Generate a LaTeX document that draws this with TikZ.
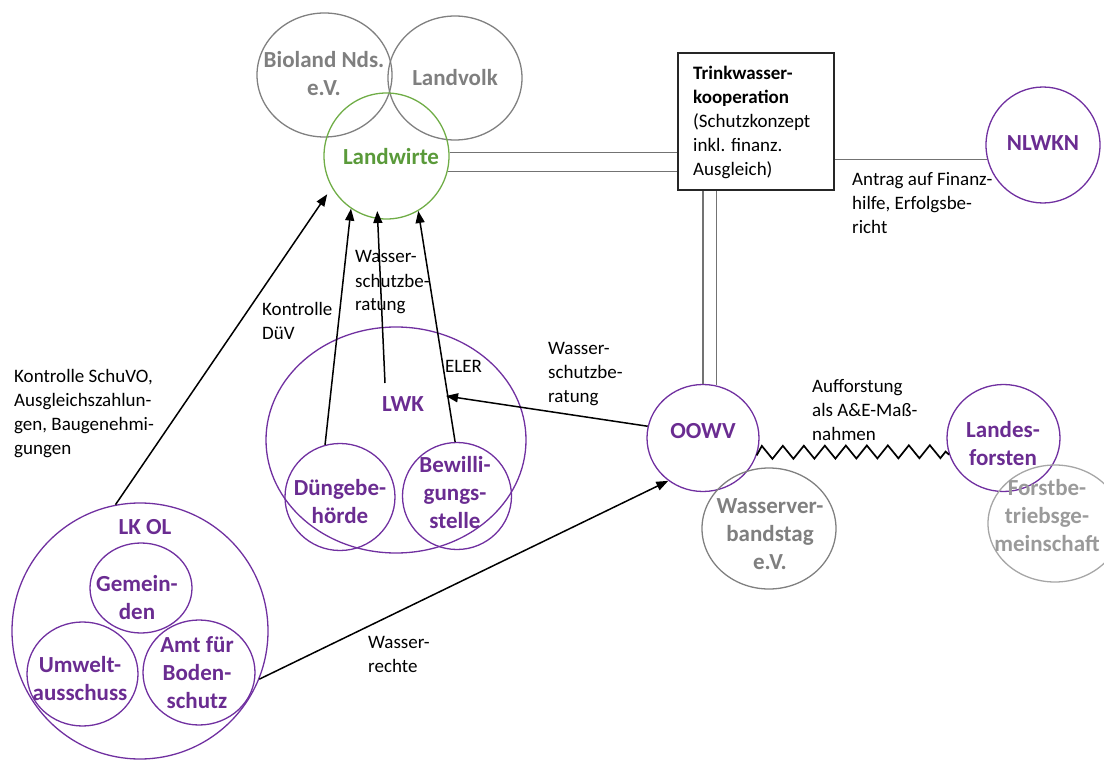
\documentclass[tikz,border=0pt]{standalone}
\usepackage{fontspec}
\setmainfont{Carlito}
\usetikzlibrary{shapes.geometric,arrows.meta,decorations.pathmorphing}
\definecolor{purp}{HTML}{7030A0}
\definecolor{purptxt}{HTML}{6A2C91}
\definecolor{grn}{HTML}{70AD47}
\definecolor{grntxt}{HTML}{5A9A3A}
\definecolor{gry}{HTML}{808080}
\definecolor{grytxt}{HTML}{7F7F7F}
\definecolor{lgry}{HTML}{A6A6A6}
\definecolor{lgrytxt}{HTML}{9A9A9A}
\begin{document}
\begin{tikzpicture}[x=1pt,y=-1pt,
 circ/.style={ellipse, draw, line width=1.3pt, inner sep=0pt},
 pc/.style={circ, draw=purp},
 gc/.style={circ, draw=gry},
 lab/.style={font=\fontsize{23}{28}\selectfont\bfseries, align=center, inner sep=0pt},
 pl/.style={lab, text=purptxt},
 gl/.style={lab, text=grytxt},
 txt/.style={font=\fontsize{19}{24}\selectfont, align=left, inner sep=0pt, anchor=base west},
 arr/.style={-{Triangle[length=12pt,width=9pt]}, line width=1.5pt},
 rel/.style={line width=1.1pt, draw=black!55}
]
\useasboundingbox (0,0) rectangle (1104,762);

% top group
\node[gc, minimum width=135, minimum height=124] (bio) at (324.5,75) {};
\node[gc, minimum width=134, minimum height=124] (lv) at (455,78) {};
\node[circ, draw=grn, minimum width=125, minimum height=126] (lw) at (386.5,156) {};
\node[gl] (biot) at (324,74) {Bioland Nds.\\e.V.};
\node[gl] (lvt) at (455,78) {Landvolk};
\node[lab, text=grntxt] (lwt) at (391,157) {Landwirte};

% Trinkwasserkooperation
\node[draw=black!85, line width=1.3pt, minimum width=156, minimum height=137, inner sep=0pt] (tk) at (756,121.5) {};
\node[txt] (tkt) at (693,176) {\textbf{Trinkwasser-}\\\textbf{kooperation}\\(Schutzkonzept\\inkl. finanz.\\Ausgleich)};

% NLWKN
\node[pc, minimum width=114, minimum height=116] (nl) at (1043,145) {};
\node[pl] (nlt) at (1043,143) {NLWKN};
\node[txt] (antrag) at (852,234) {Antrag auf Finanz-\\hilfe, Erfolgsbe-\\richt};

% OOWV group
\node[pc, minimum width=112, minimum height=107] (oowv) at (703,438) {};
\node[pl] (oowvt) at (703,431) {OOWV};
\node[gc, minimum width=134, minimum height=121] (wv) at (769,528.5) {};
\node[gl] (wvt) at (770,534) {Wasserver-\\bandstag\\e.V.};
\node[pc, minimum width=113, minimum height=107] (lf) at (1003.5,438) {};
\node[pl] (lft) at (1003,444) {Landes-\\forsten};
\node[circ, draw=lgry, minimum width=134, minimum height=117] (fb) at (1055,523.5) {};
\node[lab, text=lgrytxt] (fbt) at (1047,516) {Forstbe-\\triebsge-\\meinschaft};
\node[txt] (auff) at (812,440) {Aufforstung\\als A\&E-Maß-\\nahmen};

% LWK group
\node[pc, minimum width=260, minimum height=226] (lwk) at (396,440) {};
\node[pl] (lwkt) at (403,404) {LWK};
\node[pc, minimum width=110, minimum height=107] (dg) at (340,497) {};
\node[pl] (dgt) at (340,502) {Düngebe-\\hörde};
\node[pc, minimum width=109, minimum height=107] (bw) at (457,496) {};
\node[pl] (bwt) at (455,493) {Bewilli-\\gungs-\\stelle};

% LK OL group
\node[pc, minimum width=256, minimum height=256] (lk) at (140,631) {};
\node[pl] (lkt) at (145,527) {LK OL};
\node[pc, minimum width=102, minimum height=90] (gm) at (141,588) {};
\node[pl] (gmt) at (137,598) {Gemein-\\den};
\node[pc, minimum width=111, minimum height=104] (uw) at (82.5,674) {};
\node[pl] (uwt) at (80,679) {Umwelt-\\ausschuss};
\node[pc, minimum width=112, minimum height=105] (am) at (199,672.5) {};
\node[pl] (amt) at (197,673) {Amt für\\Boden-\\schutz};

% connector labels (anchor = baseline of last line)
\node[txt] (l1) at (14,454) {Kontrolle SchuVO,\\Ausgleichszahlun-\\gen, Baugenehmi-\\gungen};
\node[txt] (l2) at (262,339) {Kontrolle\\DüV};
\node[txt] (l3) at (355,311) {Wasser-\\schutzbe-\\ratung};
\node[txt] (l4) at (445,373) {ELER};
\node[txt] (l5) at (548,402) {Wasser-\\schutzbe-\\ratung};
\node[txt] (l6) at (368,672) {Wasser-\\rechte};

% coordinates for free ends
\coordinate (lwks) at (385,383);
\coordinate (lwkin) at (446,396);

% relation lines
\draw[rel] (lw.3.7) -- (lw.3.7 -| tk.west);
\draw[rel] (lw.-14) -- (lw.-14 -| tk.west);
\draw[rel] (nl.195) -- (nl.195 -| tk.east);
\draw[rel] (oowv.90) -- (oowv.90 |- tk.south);
\draw[rel] (oowv.76) -- (oowv.76 |- tk.south);
\draw[line width=1.7pt, decorate, decoration={zigzag, amplitude=6.5pt, segment length=21pt, raise=3pt}] (oowv.-18) -- (lf.197);

% arrows
\draw[arr, shorten >=8pt] (lk.101) -- (lw.210);
\draw[arr] (dg.106) -- (lw.236);
\draw[arr, shorten >=-8pt] (lwks) -- (lw.262);
\draw[arr] (bw.92) -- (lw.300);
\draw[arr] (oowv.168) -- (lwkin);
\draw[arr] (lk.-22) -- (oowv.231);
\end{tikzpicture}
\end{document}
